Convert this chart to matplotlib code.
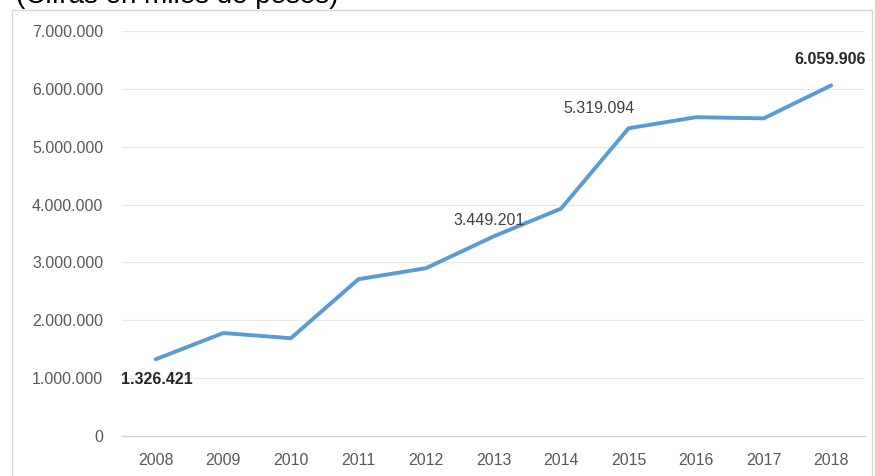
import matplotlib.pyplot as plt
from matplotlib.patches import Rectangle

plt.rcParams['font.family'] = ['Liberation Sans', 'DejaVu Sans']

years = ['2008', '2009', '2010', '2011', '2012', '2013', '2014', '2015', '2016', '2017', '2018']
values = [1326421, 1780000, 1690000, 2710000, 2900000, 3449201, 3930000, 5319094, 5510000, 5490000, 6059906]
yticks = [0, 1000000, 2000000, 3000000, 4000000, 5000000, 6000000, 7000000]


def fmt(v):
    return '{:,}'.format(v).replace(',', '.')


fig = plt.figure(figsize=(8.75, 4.76), dpi=100)

# outer chart frame
fig.patches.append(Rectangle((12 / 875, -0.05), (872 - 12) / 875, 1 - 10 / 476 + 0.05,
                             transform=fig.transFigure, fill=False,
                             edgecolor='#D9D9D9', linewidth=1))
fig.text(16 / 875, 1 - 3 / 476, '(Cifras en miles de pesos)', fontsize=20,
         color='black', va='baseline', ha='left')

ax = fig.add_axes([122 / 875, 1 - 436 / 476, (865 - 122) / 875, (436 - 31) / 476])

x = list(range(len(years)))
ax.plot(x, values, color='#5B9BD5', linewidth=2.8, solid_capstyle='round')

ax.set_xlim(-0.5, len(years) - 0.5)
ax.set_ylim(0, 7000000)
ax.set_xticks(x)
ax.set_xticklabels(years)
ax.set_yticks(yticks)
ax.set_yticklabels([fmt(v) for v in yticks])
ax.tick_params(axis='both', length=0, labelsize=11.5, colors='#595959')
ax.tick_params(axis='y', pad=13.5)
ax.tick_params(axis='x', pad=12)

for v in yticks[1:]:
    ax.axhline(v, color='#E8E8E8', linewidth=0.8, zorder=0)
for s in ['top', 'right', 'left']:
    ax.spines[s].set_visible(False)
ax.spines['bottom'].set_color('#D0D0D0')
ax.spines['bottom'].set_linewidth(1)

# data labels
ax.annotate(fmt(values[0]), (0, values[0]), xytext=(1, -14.5), textcoords='offset points',
            ha='center', va='center', fontsize=11.5, fontweight='bold', color='#262626')
ax.annotate(fmt(values[5]), (5, values[5]), xytext=(-3, 11.5), textcoords='offset points',
            ha='center', va='center', fontsize=11.5, color='#404040')
ax.annotate(fmt(values[7]), (7, values[7]), xytext=(-21, 14.5), textcoords='offset points',
            ha='center', va='center', fontsize=11.5, color='#404040')
ax.annotate(fmt(values[10]), (10, values[10]), xytext=(-1, 19), textcoords='offset points',
            ha='center', va='center', fontsize=11.5, fontweight='bold', color='#262626')

fig.savefig('out.png', dpi=100)
